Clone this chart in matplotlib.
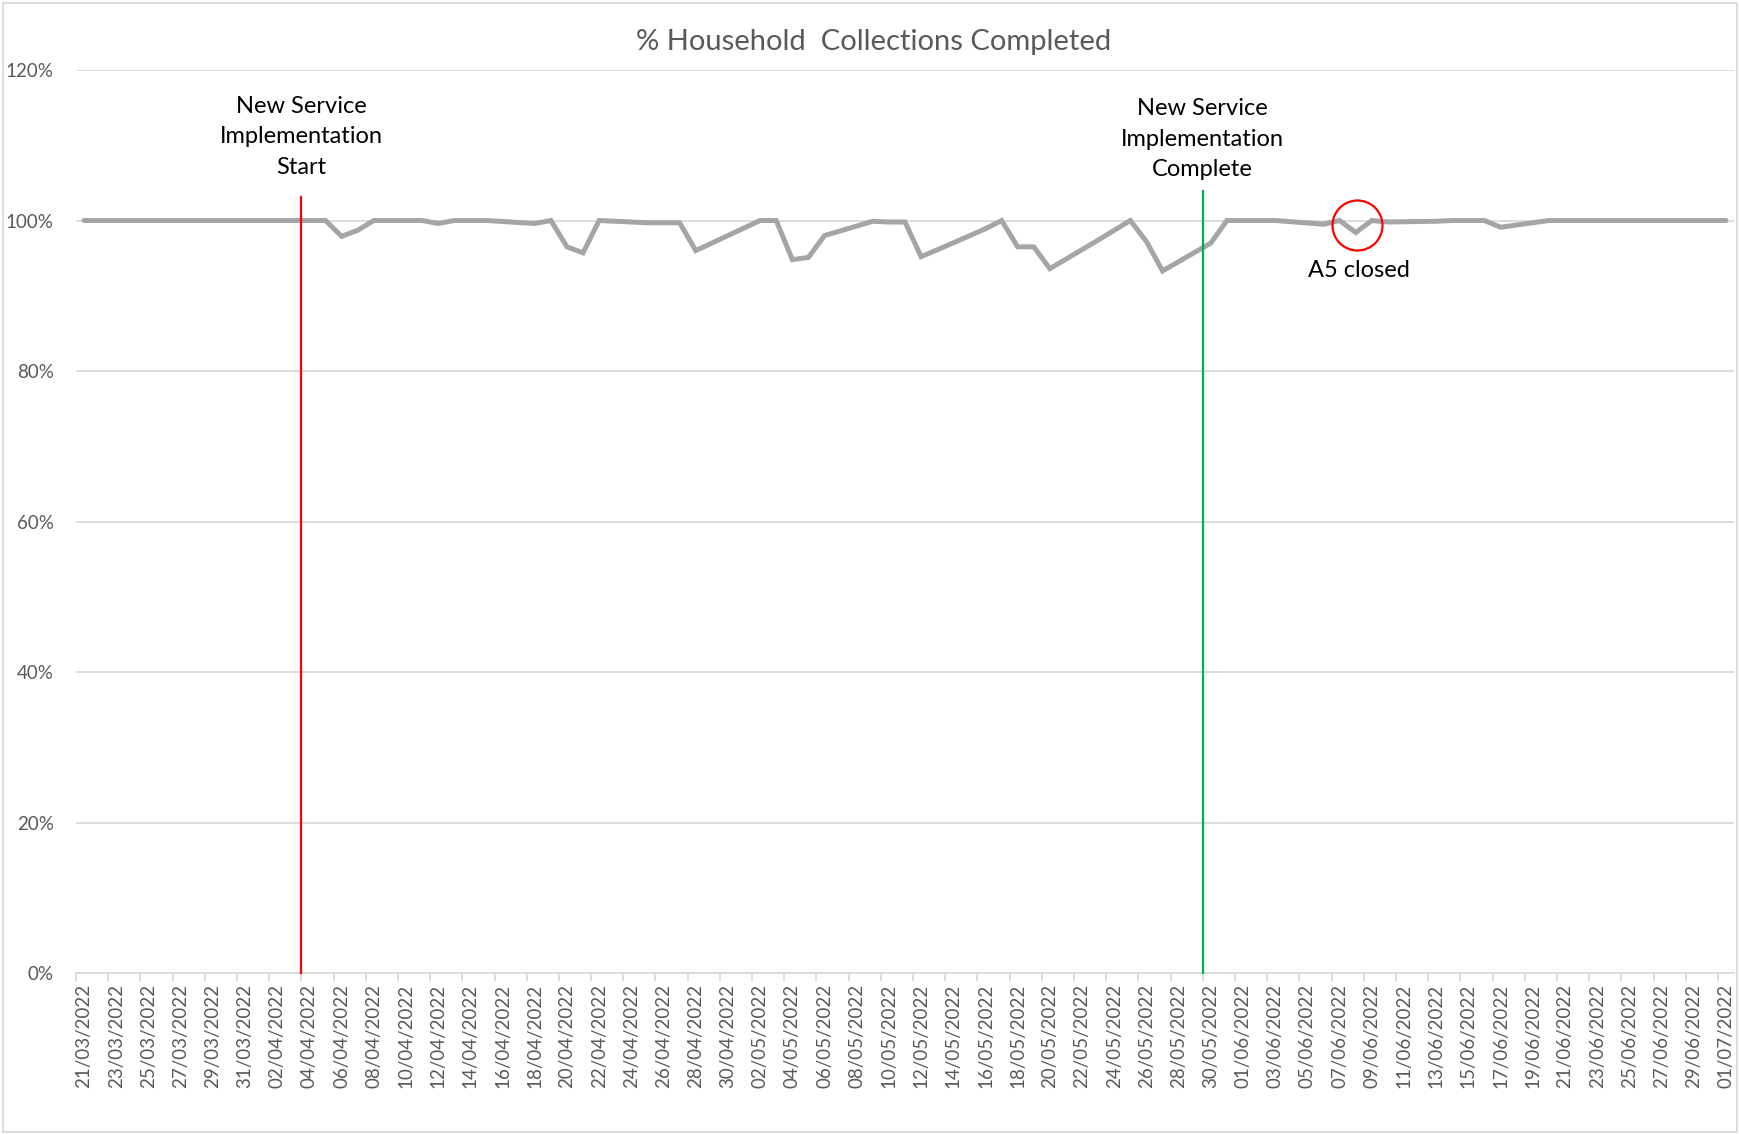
import matplotlib
matplotlib.use("Agg")
import matplotlib.pyplot as plt
from matplotlib.patches import Rectangle
import numpy as np
import pandas as pd

plt.rcParams['font.family'] = ['Lato', 'DejaVu Sans']

# ---- data ----
start_date = "2022-03-21"
n_days = 103
# daily % completed (None = no collections that day, e.g. weekends)
pct_completed = [
    100, 100, 100, 100, 100, None, None,          # 21/03 - 27/03
    100, 100, 100, 100, 100, None, None,          # 28/03 - 03/04
    100, 100, 97.9, 98.7, 100, None, None,        # 04/04 - 10/04
    100, 99.6, 100, 100, 100, None, None,         # 11/04 - 17/04
    99.6, 100, 96.5, 95.7, 100, None, None,       # 18/04 - 24/04
    99.7, 99.7, 99.7, 96.0, 97.0, None, None,     # 25/04 - 01/05
    100, 100, 94.8, 95.1, 98.0, None, None,       # 02/05 - 08/05
    99.9, 99.8, 99.8, 95.2, 96.1, None, None,     # 09/05 - 15/05
    98.9, 100, 96.5, 96.5, 93.6, None, None,      # 16/05 - 22/05
    97.4, 98.7, 100, 97.2, 93.3, None, None,      # 23/05 - 29/05
    97.0, 100, 100, 100, 100, None, None,         # 30/05 - 05/06
    99.5, 100, 98.4, 100, 99.8, None, None,       # 06/06 - 12/06
    99.9, 100, 100, 100, 99.1, None, None,        # 13/06 - 19/06
    100, 100, 100, 100, 100, None, None,          # 20/06 - 26/06
    100, 100, 100, 100, 100,                      # 27/06 - 01/07
]
title = "% Household  Collections Completed"
start_label = "New Service\nImplementation\nStart"
complete_label = "New Service\nImplementation\nComplete"
start_event_date = "04/04/2022"
complete_event_date = "30/05/2022"
a5_date = "08/06/2022"
a5_label = "A5 closed"
y_ticks = [0, 20, 40, 60, 80, 100, 120]

dates = pd.date_range(start_date, periods=n_days, freq="D")
date_labels = [d.strftime("%d/%m/%Y") for d in dates]
x = np.arange(n_days)
vals = np.array([np.nan if v is None else v for v in pct_completed], dtype=float)
mask = ~np.isnan(vals)

# ---- figure ----
fig = plt.figure(figsize=(17.4, 11.34), dpi=100)
ax = fig.add_axes([76/1740, 1 - 973/1134, (1734-76)/1740, (973-70)/1134])

grid_c = "#D9D9D9"
text_c = "#595959"

for yt in y_ticks[1:]:
    ax.axhline(yt, color=grid_c, lw=1.3, zorder=0)

ax.plot(x[mask], vals[mask], color="#A5A5A5", lw=3.6, solid_joinstyle="miter",
        solid_capstyle="round", zorder=3)

ax.set_xlim(-0.5, n_days - 0.5)
ax.set_ylim(0, 120)

# y axis
ax.set_yticks(y_ticks)
ax.set_yticklabels([f"{t}%" for t in y_ticks], color=text_c, fontsize=13.5)
ax.tick_params(axis="y", length=0, pad=16)

# x axis: labels every 2 days (major, no mark), tick marks at boundaries (minor)
lab_pos = x[::2]
ax.set_xticks(lab_pos)
ax.set_xticklabels([date_labels[i] for i in lab_pos], rotation=90,
                   color=text_c, fontsize=13.5)
ax.tick_params(axis="x", which="major", length=0, pad=8)
ax.set_xticks(np.arange(-0.5, n_days, 2), minor=True)
ax.tick_params(axis="x", which="minor", length=6, color=grid_c, width=1.3,
               labelbottom=False)

for s in ["top", "right", "left"]:
    ax.spines[s].set_visible(False)
ax.spines["bottom"].set_color(grid_c)
ax.spines["bottom"].set_linewidth(1.3)

# event lines
xs = date_labels.index(start_event_date) - 0.5
xc = date_labels.index(complete_event_date) - 0.5
ax.plot([xs, xs], [0, 103.1], color="#FF0000", lw=1.6, zorder=4, clip_on=False)
ax.plot([xc, xc], [0, 103.9], color="#00B050", lw=1.6, zorder=4, clip_on=False)
ax.text(xs, 111.1, start_label, ha="center", va="center", fontsize=17,
        color="black", linespacing=1.55)
ax.text(xc, 110.8, complete_label, ha="center", va="center", fontsize=17,
        color="black", linespacing=1.55)

# A5 closed annotation
xa = date_labels.index(a5_date) + 0.06
ax.plot([xa], [99.4], marker="o", markersize=36, markerfacecolor="none",
        markeredgecolor="#FF0000", markeredgewidth=1.6, zorder=5)
ax.text(xa + 0.15, 93.3, a5_label, ha="center", va="center", fontsize=17, color="black")

fig.text(787*1.1097/1740, 1 - 42/1134, title, ha="center", va="center",
         fontsize=21, color=text_c)

# chart border
fig.patches.append(Rectangle((3/1740, 2/1134), 1734/1740, 1129/1134,
                             transform=fig.transFigure, fill=False,
                             edgecolor="#D9D9D9", lw=1.3))

fig.savefig("out.png", dpi=100)
